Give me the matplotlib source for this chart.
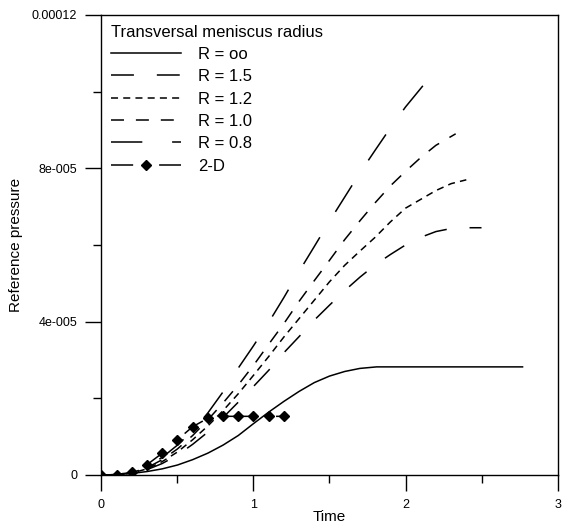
import matplotlib
matplotlib.use("Agg")
import matplotlib.pyplot as plt
from matplotlib.ticker import FixedLocator

plt.rcParams["font.family"] = ["Liberation Sans", "DejaVu Sans"]

# values (pressure in units of 1e-5)
scale = 1e-5

x_inf = [0, 0.1, 0.2, 0.3, 0.4, 0.5, 0.6, 0.7, 0.8, 0.9, 1.0, 1.1, 1.2,
         1.3, 1.4, 1.5, 1.6, 1.7, 1.81, 2.77]
y_inf = [0, 0.01, 0.04, 0.09, 0.16, 0.26, 0.40, 0.57, 0.78, 1.03, 1.34,
         1.64, 1.92, 2.18, 2.41, 2.58, 2.70, 2.78, 2.82, 2.82]

x_15 = [0, 0.1, 0.2, 0.3, 0.4, 0.5, 0.6, 0.7, 0.8, 0.9, 1.0, 1.1, 1.2,
        1.3, 1.4, 1.5, 1.6, 1.7, 1.8, 1.9, 2.0, 2.1, 2.2, 2.3, 2.4, 2.5]
y_15 = [0, 0.005, 0.04, 0.14, 0.30, 0.52, 0.80, 1.12, 1.50, 1.90, 2.31,
        2.73, 3.19, 3.61, 4.04, 4.43, 4.81, 5.16, 5.48, 5.75, 6.00, 6.20,
        6.35, 6.43, 6.45, 6.45]

x_12 = [0, 0.1, 0.2, 0.3, 0.4, 0.5, 0.6, 0.7, 0.8, 0.9, 1.0, 1.1, 1.2,
        1.3, 1.4, 1.5, 1.6, 1.7, 1.8, 1.9, 2.0, 2.1, 2.2, 2.3, 2.4]
y_12 = [0, 0.005, 0.05, 0.16, 0.35, 0.60, 0.92, 1.28, 1.68, 2.12, 2.60,
        3.09, 3.60, 4.08, 4.56, 5.04, 5.47, 5.84, 6.20, 6.60, 6.96, 7.19,
        7.42, 7.60, 7.70]

x_10 = [0, 0.1, 0.2, 0.3, 0.4, 0.5, 0.6, 0.7, 0.8, 0.9, 1.0, 1.1, 1.2,
        1.3, 1.4, 1.5, 1.6, 1.7, 1.8, 1.9, 2.0, 2.1, 2.2, 2.33]
y_10 = [0, 0.01, 0.06, 0.19, 0.40, 0.68, 1.03, 1.44, 1.88, 2.35, 2.86,
        3.41, 3.95, 4.53, 5.07, 5.60, 6.14, 6.63, 7.10, 7.54, 7.92, 8.28,
        8.60, 8.90]

x_08 = [0, 0.1, 0.2, 0.3, 0.4, 0.5, 0.6, 0.7, 0.8, 0.9, 1.0, 1.1, 1.2,
        1.3, 1.4, 1.5, 1.6, 1.7, 1.8, 1.9, 2.0, 2.12]
y_08 = [0, 0.01, 0.07, 0.22, 0.46, 0.78, 1.15, 1.62, 2.17, 2.79, 3.37,
        3.98, 4.63, 5.31, 5.96, 6.62, 7.25, 7.88, 8.47, 9.05, 9.60, 10.18]

x_2d = [0, 0.1, 0.2, 0.3, 0.4, 0.5, 0.6, 0.7, 0.8, 0.9, 1.0, 1.1, 1.2]
y_2d = [0, 0, 0.09, 0.27, 0.57, 0.92, 1.26, 1.48, 1.53, 1.53, 1.53,
        1.53, 1.53]

y_ticks = [0, 4e-5, 8e-5, 12e-5]
y_tick_labels = ["0", "4e-005", "8e-005", "0.00012"]
x_ticks = [0, 1, 2, 3]

fig = plt.figure(figsize=(5.66, 5.26), dpi=100)
ax = fig.add_axes([0.1793, 0.097, 0.8057, 0.8745])

lw = 1.1
ax.plot(x_inf, [v * scale for v in y_inf], color="black", lw=lw,
        label="R = oo")
ax.plot(x_15, [v * scale for v in y_15], color="black", lw=lw,
        dashes=(15, 15), label="R = 1.5")
ax.plot(x_12, [v * scale for v in y_12], color="black", lw=lw,
        dashes=(4.6, 3.4), label="R = 1.2")
ax.plot(x_10, [v * scale for v in y_10], color="black", lw=lw,
        dashes=(8.5, 7.8), label="R = 1.0")
ax.plot(x_08, [v * scale for v in y_08], color="black", lw=lw,
        dashes=(20.5, 19.5), label="R = 0.8")
ax.plot(x_2d, [v * scale for v in y_2d], color="black", lw=lw,
        dashes=(14.5, 17), marker="D", markersize=5, label="2-D")

ax.set_xlim(0, 3)
ax.set_ylim(0, 12e-5)
ax.xaxis.set_major_locator(FixedLocator(x_ticks))
ax.xaxis.set_minor_locator(FixedLocator([0.5, 1.5, 2.5]))
ax.set_xticklabels([str(t) for t in x_ticks])
ax.yaxis.set_major_locator(FixedLocator(y_ticks))
ax.yaxis.set_minor_locator(FixedLocator([2e-5, 6e-5, 10e-5]))
ax.set_yticklabels(y_tick_labels)

ax.tick_params(which="major", length=11.5, width=1, labelsize=9, pad=6)
ax.tick_params(which="minor", length=6, width=1)
for s in ax.spines.values():
    s.set_linewidth(1)

ax.set_xlabel("Time", fontsize=11, labelpad=-1)
ax.set_ylabel("Reference pressure", fontsize=11, labelpad=6)

leg = ax.legend(loc="upper left", frameon=False, fontsize=12,
                title="Transversal meniscus radius", title_fontsize=12,
                alignment="left", handlelength=4.2, handletextpad=1.0,
                labelspacing=0.44, numpoints=1, borderaxespad=0.4,
                borderpad=0.18)

fig.savefig("out.png", dpi=100)
